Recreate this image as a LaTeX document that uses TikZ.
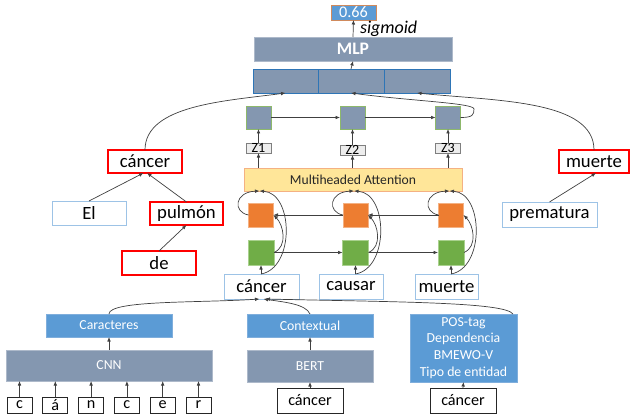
\documentclass[tikz,border=0pt]{standalone}
\usepackage{fontspec}
\setmainfont{Carlito}
\usetikzlibrary{arrows.meta, calc}

\begin{document}
\begin{tikzpicture}[
    x=0.025cm, y=-0.025cm,
    every node/.style={inner sep=0pt, outer sep=0pt},
    sz/.style 2 args={minimum width=#1*0.025cm, minimum height=#2*0.025cm},
    lay/.style={draw=slateline, fill=slate, line width=0.5pt, text=white,
                font=\fontsize{9.8}{11.8}\selectfont},
    emb/.style={draw=embline, fill=accblue, line width=0.5pt, text=white,
                font=\fontsize{9.8}{11.9}\selectfont},
    word/.style={draw=wordline, fill=white, line width=0.6pt,
                 font=\fontsize{13.3}{15}\selectfont},
    keyw/.style={draw=keyred, fill=white, line width=1.4pt,
                 font=\fontsize{13.3}{15}\selectfont},
    inbox/.style={draw=black!85, fill=white, line width=0.5pt,
                  font=\fontsize{11.5}{13}\selectfont},
    fwcell/.style={draw=greenline, fill=accgreen, line width=0.5pt, sz={26}{25}},
    bwcell/.style={draw=orangeline, fill=accorange, line width=0.5pt, sz={25}{24}},
    outcell/.style={draw=outgreen, fill=slate, line width=0.5pt, sz={25}{23}},
    zbox/.style={draw=zline, fill=zfill, line width=0.5pt, sz={25}{10},
                 font=\fontsize{10}{10}\selectfont},
    arr/.style={draw=conn, line width=0.5pt, -{Latex[length=3.2pt, width=2.6pt]}},
]

\definecolor{slate}{HTML}{8497B0}      % trained layers
\definecolor{slateline}{HTML}{ADB9CA}
\definecolor{accblue}{HTML}{5B9BD5}    % the three embeddings
\definecolor{embline}{HTML}{7FAEDC}
\definecolor{catline}{HTML}{2E75B6}
\definecolor{accgreen}{HTML}{70AD47}   % forward cells
\definecolor{greenline}{HTML}{A9D18E}
\definecolor{accorange}{HTML}{ED7D31}  % backward cells
\definecolor{orangeline}{HTML}{F4B183}
\definecolor{outgreen}{HTML}{8DB86B}
\definecolor{attfill}{HTML}{FFE699}
\definecolor{attline}{HTML}{F4B183}
\definecolor{wordline}{HTML}{9DC3E6}
\definecolor{keyred}{HTML}{FF0000}
\definecolor{zfill}{HTML}{EDEDED}
\definecolor{zline}{HTML}{7F7F7F}
\definecolor{outline}{HTML}{D08A5C}
\definecolor{conn}{HTML}{404040}

% ================================================================
% One unit = one pixel of the 632 x 420 sheet, y grows downward.
%
%   y =  12   score          y = 49   MLP       y = 81  concat
%   y = 117   recurrent row  y = 148  Z1..Z3    y = 180 attention
%   y = 215   backward cells y = 252  forward   y = 287 words
%   y = 326   embeddings     y = 366  CNN/BERT  y = 401 inputs
% Dependency trees sit left (cancer) and right (muerte).
% ================================================================

\useasboundingbox (0,0) rectangle (632,420);

% ---------------------------------------------------------------- top
\node[emb, draw=outline, sz={45}{15}, font=\fontsize{11.5}{13}\selectfont]
    (out) at (353.5,12.5) {0.66};
\node[lay, sz={198}{24}, font=\bfseries\fontsize{12.5}{14}\selectfont]
    (mlp) at (353,49) {MLP};
\node[font=\itshape\fontsize{12.8}{15}\selectfont, anchor=west]
    (sig) at (360,29) {sigmoid};

\foreach \n/\x/\w in {1/285.5/65, 2/351/66, 3/417/66}
  \node[lay, draw=catline, sz={\w}{24}] (cat\n) at (\x,81) {};

\draw[arr] (mlp.north) -- (out.south);
\draw[arr] (cat2.north) -- (mlp.south);

% ---------------------------------------------------------------- attention
\node[draw=attline, fill=attfill, line width=0.5pt, sz={218}{23},
      font=\fontsize{9.7}{11}\selectfont, text=black!85]
    (att) at (353,179.5) {Multiheaded Attention};

% the three word columns
\foreach \i/\hx/\gx/\wx/\ww/\wt/\zy in {1/258.5/261/261.5/75/cáncer/148,
                                        2/352.5/355.5/351/64/causar/150,
                                        3/448/451/446.5/63/muerte/148} {
  \node[outcell] (h\i) at (\hx,117.5) {};
  \node[zbox] (z\i) at (\hx,\zy) {Z\i};
  \node[bwcell] (o\i) at (\gx,215) {};
  \node[fwcell] (g\i) at (\gx,252.5) {};
  \node[word, sz={\ww}{25}] (w\i) at (\wx,286.5) {\wt};

  \draw[arr] (z\i.north) -- (h\i.south);
  \draw[arr] (z\i.south |- att.north) -- (z\i.south);
  \draw[arr] (g\i.south |- w\i.north) -- (g\i.south);
  % word into both directions, both directions into attention
  \draw[arr] (g\i.east) .. controls +(14,-6) and +(10,10) .. (o\i.east);
  \draw[arr] (g\i.south |- w\i.north) .. controls +(34,-6) and +(34,2)
      .. ($(g\i.north |- att.south)+(-1.5,0)$);
  \draw[arr] (o\i.west) .. controls +(-16,-3) and +(-25,1)
      .. ($(g\i.north |- att.south)+(-1.5,0)$);
}

\draw[arr] (h1.east) -- (h2.west);
\draw[arr] (h2.east) -- (h3.west);
\draw[arr] (g1.east) -- (g2.west);
\draw[arr] (g2.east) -- (g3.west);
\draw[arr] (o3.west) -- (o2.east);
\draw[arr] (o2.west) -- (o1.east);

% last state loops back into the middle block
\coordinate (loopr) at (474,109);
\draw[arr] (h3.east) .. controls +(12,0) and +(0,6) .. (loopr)
    .. controls +(0,-6) and +(60,8) .. (cat2.south);

% ---------------------------------------------------------------- trees
\node[keyw, sz={74}{23}] (tc) at (145,161.5) {cáncer};
\node[word, sz={74}{24}] (tel) at (89,213) {El};
\node[keyw, sz={73}{23}] (tpul) at (186.5,213.5) {pulmón};
\node[keyw, sz={74}{24}] (tde) at (159,263) {de};
\node[keyw, sz={70}{23}] (tmu) at (594,161.5) {muerte};
\node[word, sz={95}{25}] (tpre) at (549.5,214.5) {prematura};

\draw[arr] (tel.north) -- ($(tc.south)+(-1.5,0)$);
\draw[arr] (tpul.north) -- ($(tc.south)+(2,0)$);
\draw[arr] (tde.north) -- (tpul.south);
\draw[arr] (tpre.north) -- ($(tmu.south)+(2,0)$);

\draw[arr] (tc.north) .. controls +(0,-45) and +(-60,8) .. (cat1.south);
\draw[arr] (tmu.north) .. controls +(0,-50) and +(80,8) .. (cat3.south);

% ---------------------------------------------------------------- embeddings
\node[emb, sz={126}{23}] (car) at (109,325.5) {Caracteres};
\node[lay, sz={206}{31}] (cnn) at (109,365.5) {CNN};
\node[emb, sz={126}{23}] (ctx) at (310,325.5) {Contextual};
\node[lay, sz={126}{32}] (bert) at (310,366) {BERT};
\node[inbox, sz={66}{25}, font=\fontsize{11.5}{13}\selectfont]
    (in1) at (310,400.5) {cáncer};
\node[emb, sz={107}{68}, align=center]
    (pos) at (463.5,348) {POS-tag\\Dependencia\\BMEWO-V\\Tipo de entidad};
\node[inbox, sz={66}{25}, font=\fontsize{11.5}{13}\selectfont]
    (in2) at (463,400.5) {cáncer};

\foreach \c [count=\k from 0] in {c, á, n, c, e, r} {
  \node[inbox, sz={25}{16}] (ch\k) at ({19.5+35.8*\k},405) {\c};
  \draw[arr] (ch\k.north) -- (ch\k.north |- cnn.south);
}

\draw[arr] (cnn.north) -- (car.south);
\draw[arr] (bert.north) -- (ctx.south);
\draw[arr] (in1.north) -- (bert.south);
\draw[arr] (in2.north) -- (pos.south);

\draw[arr] (car.north) .. controls +(0,-14) and +(-60,4) .. ($(w1.south)+(-2,0)$);
\draw[arr] (ctx.north) .. controls +(-4,-10) and +(20,3) .. ($(w1.south)+(2,0)$);
\draw[arr] ($(pos.north east)+(-4,0)$) .. controls +(-8,-12) and +(130,3)
    .. ($(w1.south)+(4,0)$);

\end{tikzpicture}
\end{document}
